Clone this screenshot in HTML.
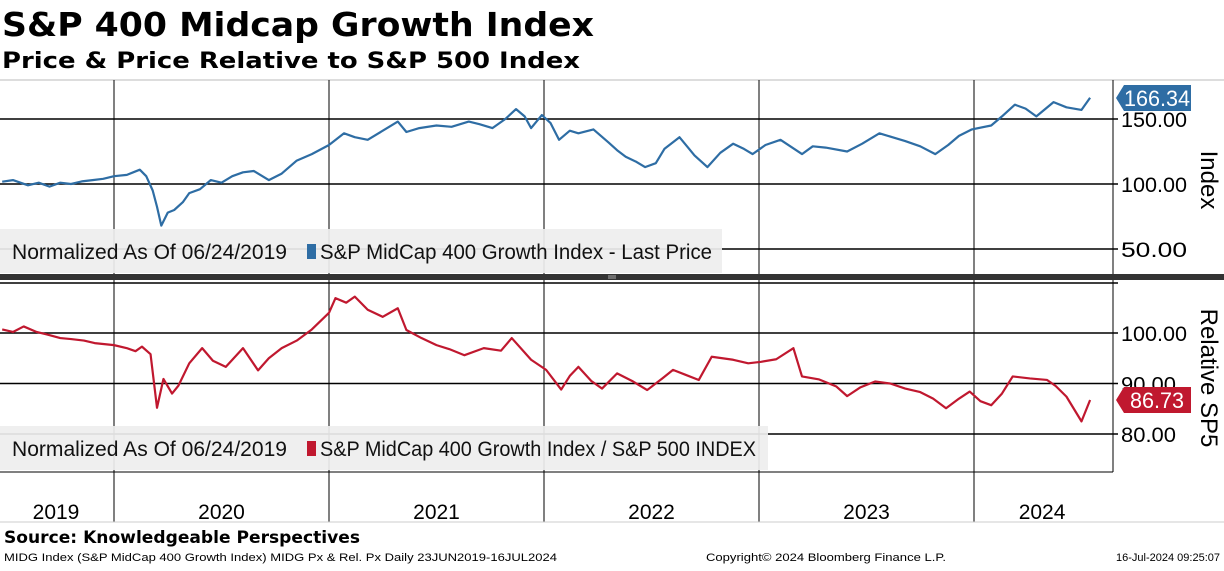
<!DOCTYPE html>
<html><head><meta charset="utf-8"><style>
body{margin:0;background:#fff;font-family:"Liberation Sans",sans-serif;}
svg text{font-family:"Liberation Sans",sans-serif;}
</style></head><body>
<svg width="1224" height="566" viewBox="0 0 1224 566">
<text x="2" y="36" font-size="33" font-weight="bold" fill="#000" textLength="592" lengthAdjust="spacingAndGlyphs" style="font-family:'DejaVu Sans',sans-serif">S&amp;P 400 Midcap Growth Index</text>
<text x="2" y="68" font-size="22" font-weight="bold" fill="#000" textLength="578" lengthAdjust="spacingAndGlyphs" style="font-family:'DejaVu Sans',sans-serif">Price &amp; Price Relative to S&amp;P 500 Index</text>
<line x1="0" y1="80" x2="1224" y2="80" stroke="#bbb"/>
<g id="grid"></g>
<g id="lines"></g>
<rect x="0" y="274" width="1224" height="6" fill="#333"/>
<line x1="608" y1="276" x2="616" y2="276" stroke="#aaa"/><line x1="608" y1="278" x2="616" y2="278" stroke="#aaa"/>
<g id="legends"></g>
<text transform="translate(1201,180) rotate(90)" font-size="24" text-anchor="middle">Index</text>
<text transform="translate(1201,378) rotate(90)" font-size="24" text-anchor="middle">Relative SP5</text>
<line x1="0" y1="522" x2="1224" y2="522" stroke="#ccc"/>
<text x="4" y="543" font-size="17" font-weight="bold" textLength="356" lengthAdjust="spacingAndGlyphs" style="font-family:'DejaVu Sans',sans-serif">Source: Knowledgeable Perspectives</text>
<text x="4" y="561" font-size="11" textLength="553" lengthAdjust="spacingAndGlyphs">MIDG Index (S&amp;P MidCap 400 Growth Index) MIDG Px &amp; Rel. Px  Daily 23JUN2019-16JUL2024</text>
<text x="706" y="561" font-size="11" textLength="240" lengthAdjust="spacingAndGlyphs">Copyright© 2024 Bloomberg Finance L.P.</text>
<text x="1220" y="561" font-size="11" text-anchor="end">16-Jul-2024 09:25:07</text>
</svg>
<script>
const priceDates=[2019.48,2019.53,2019.6,2019.65,2019.7,2019.75,2019.8,2019.85,2019.9,2019.95,2020.0,2020.06,2020.12,2020.15,2020.18,2020.2,2020.22,2020.25,2020.28,2020.32,2020.35,2020.4,2020.45,2020.5,2020.55,2020.6,2020.65,2020.72,2020.78,2020.85,2020.92,2021.0,2021.07,2021.12,2021.18,2021.25,2021.32,2021.36,2021.42,2021.5,2021.57,2021.65,2021.7,2021.76,2021.82,2021.87,2021.91,2021.94,2021.99,2022.03,2022.07,2022.12,2022.16,2022.23,2022.3,2022.34,2022.38,2022.43,2022.47,2022.52,2022.56,2022.63,2022.67,2022.7,2022.76,2022.82,2022.88,2022.93,2022.97,2023.03,2023.1,2023.2,2023.25,2023.31,2023.41,2023.48,2023.56,2023.62,2023.68,2023.75,2023.82,2023.88,2023.93,2023.99,2024.08,2024.13,2024.19,2024.24,2024.29,2024.37,2024.43,2024.5,2024.54];
const priceValues=[101.8,103,99,101,98,101,100,102,103,104,106,107,111,106,95,82.5,68,78,80,86,93,96,103,101,106,109,110,103,108,118,123,130,139,136,134,141,148,140,143,145,144,148,146,143,150,157.6,152,143,153,147,134,141,139,142,132,126,121,117,113,116,127,136,128,122,113,124,131,127,123,130,134,123,129,128,125,131,139,136,133,129,123,130,137,142,145,152,161,158,152,163,159,157,166.34];
const relDates=[2019.48,2019.53,2019.58,2019.64,2019.69,2019.75,2019.8,2019.86,2019.91,2020.0,2020.06,2020.1,2020.13,2020.17,2020.2,2020.23,2020.27,2020.3,2020.35,2020.41,2020.46,2020.52,2020.6,2020.67,2020.72,2020.78,2020.85,2020.92,2021.0,2021.03,2021.08,2021.12,2021.18,2021.25,2021.32,2021.36,2021.43,2021.5,2021.56,2021.63,2021.72,2021.8,2021.85,2021.94,2022.01,2022.08,2022.12,2022.16,2022.22,2022.27,2022.34,2022.41,2022.48,2022.55,2022.6,2022.66,2022.72,2022.78,2022.88,2022.95,2023.01,2023.08,2023.16,2023.2,2023.28,2023.36,2023.41,2023.47,2023.54,2023.61,2023.68,2023.75,2023.81,2023.87,2023.93,2023.98,2024.03,2024.08,2024.13,2024.18,2024.26,2024.34,2024.38,2024.43,2024.5,2024.54];
const relValues=[100.7,100.2,101.3,100.2,99.7,99,98.8,98.5,98,97.6,97,96.4,97.3,95.8,85.2,90.9,88,89.6,94,97,94.5,93.3,97,92.6,95,97,98.5,100.7,104,106.9,106,107.2,104.6,103.2,104.9,100.6,99,97.6,96.8,95.6,97,96.5,99,94.7,92.7,88.8,91.5,93.3,90.5,89,92,90.5,88.7,91,92.7,91.7,90.7,95.3,94.7,94,94.3,94.8,97,91.4,90.8,89.4,87.5,89.2,90.4,90,89,88.3,87,85.1,87,88.4,86.5,85.7,88,91.4,91,90.7,89.5,87.4,82.5,86.73];
const years=["2019","2020","2021","2022","2023","2024"];
const priceTicks=[150,100,50];
const relTicks=[100,90,80];
const NS="http://www.w3.org/2000/svg";
const X=t=>114+(t-2020)*215;
const Yp=v=>184-(v-100)*1.3;
const Yr=v=>333-(v-100)*5.05;
function mk(tag,attrs,parent){const e=document.createElementNS(NS,tag);for(const k in attrs)e.setAttribute(k,attrs[k]);document.getElementById(parent).appendChild(e);return e;}
[2020,2021,2022,2023,2024].forEach(y=>{
 const l=mk('line',{x1:X(y),x2:X(y),y1:80,y2:522,stroke:'#000','stroke-width':1},'grid');
 
 
});
mk('line',{x1:1113,x2:1113,y1:80,y2:472,stroke:'#000'},'grid');
mk('line',{x1:0,x2:1113,y1:472,y2:472,stroke:'#000'},'grid');
priceTicks.forEach(v=>{
 const l=mk('line',{x1:0,x2:1118,y1:Yp(v),y2:Yp(v),stroke:'#000','stroke-width':1.5},'grid');
 
 
 const t=mk('text',{x:1121,y:Yp(v)+8,'font-size':21,textLength:66,lengthAdjust:'spacingAndGlyphs'},'grid');t.textContent=v.toFixed(2);
 
 
});
relTicks.forEach(v=>{
 const l=mk('line',{x1:0,x2:1118,y1:Yr(v),y2:Yr(v),stroke:'#000','stroke-width':1.5},'grid');
 
 
 const t=mk('text',{x:1121,y:Yr(v)+8,'font-size':21,textLength:v>=100?66:55,lengthAdjust:'spacingAndGlyphs'},'grid');t.textContent=v.toFixed(2);
 
 
});
mk('line',{x1:0,x2:1118,y1:283,y2:283,stroke:'#000','stroke-width':1.5},'grid');
years.forEach((y,i)=>{
 const yy=+y;const a=Math.max(X(yy),0),b=Math.min(X(yy+1),X(2024.54)+20);
 const t=mk('text',{x:i==0?56:(a+b)/2,y:519,'font-size':21,'text-anchor':'middle'},'grid');t.textContent=y;
 
 
});
const pp=mk('polyline',{points:priceDates.map((d,i)=>X(d)+','+Yp(priceValues[i])).join(' '),fill:'none',stroke:'#2e6da4','stroke-width':2.2,'stroke-linejoin':'round'},'lines');


const rp=mk('polyline',{points:relDates.map((d,i)=>X(d)+','+Yr(relValues[i])).join(' '),fill:'none',stroke:'#c0182f','stroke-width':2.2,'stroke-linejoin':'round'},'lines');


function tag(v,y,col,name){
 const g=mk('g',{},'lines');
 
 
 const p=document.createElementNS(NS,'path');p.setAttribute('d',`M1116 ${y} L1124 ${y-13} H1191 V${y+13} H1124 Z`);p.setAttribute('fill',col);g.appendChild(p);
 const t=document.createElementNS(NS,'text');t.setAttribute('x',1157);t.setAttribute('y',y+8);t.setAttribute('font-size',22);t.setAttribute('fill','#fff');t.setAttribute('text-anchor','middle');t.setAttribute('textLength',v>=100?66:54);t.setAttribute('lengthAdjust','spacingAndGlyphs');t.textContent=v.toFixed(2);g.appendChild(t);
}
tag(priceValues[priceValues.length-1],98,'#2e6da4','price-last-value-tag');
tag(relValues[relValues.length-1],400,'#c0182f','relative-last-value-tag');
function legend(y,w,col,txt,len,name){
 const r=mk('rect',{x:0,y:y,width:w,height:44,fill:'#eeeeee',opacity:0.92},'legends');
 
 
 mk('text',{x:12,y:y+30,'font-size':21,fill:'#111',textLength:275,lengthAdjust:'spacingAndGlyphs'},'legends').textContent='Normalized As Of 06/24/2019';
 mk('rect',{x:307,y:y+15,width:9,height:15,fill:col},'legends');
 mk('text',{x:320,y:y+30,'font-size':21,fill:'#111',textLength:len,lengthAdjust:'spacingAndGlyphs'},'legends').textContent=txt;
}
legend(229,722,'#2e6da4','S&P MidCap 400 Growth Index - Last Price',392,'top-legend');
legend(426,768,'#c0182f','S&P MidCap 400 Growth Index / S&P 500 INDEX',436,'bottom-legend');
</script>
</body></html>
